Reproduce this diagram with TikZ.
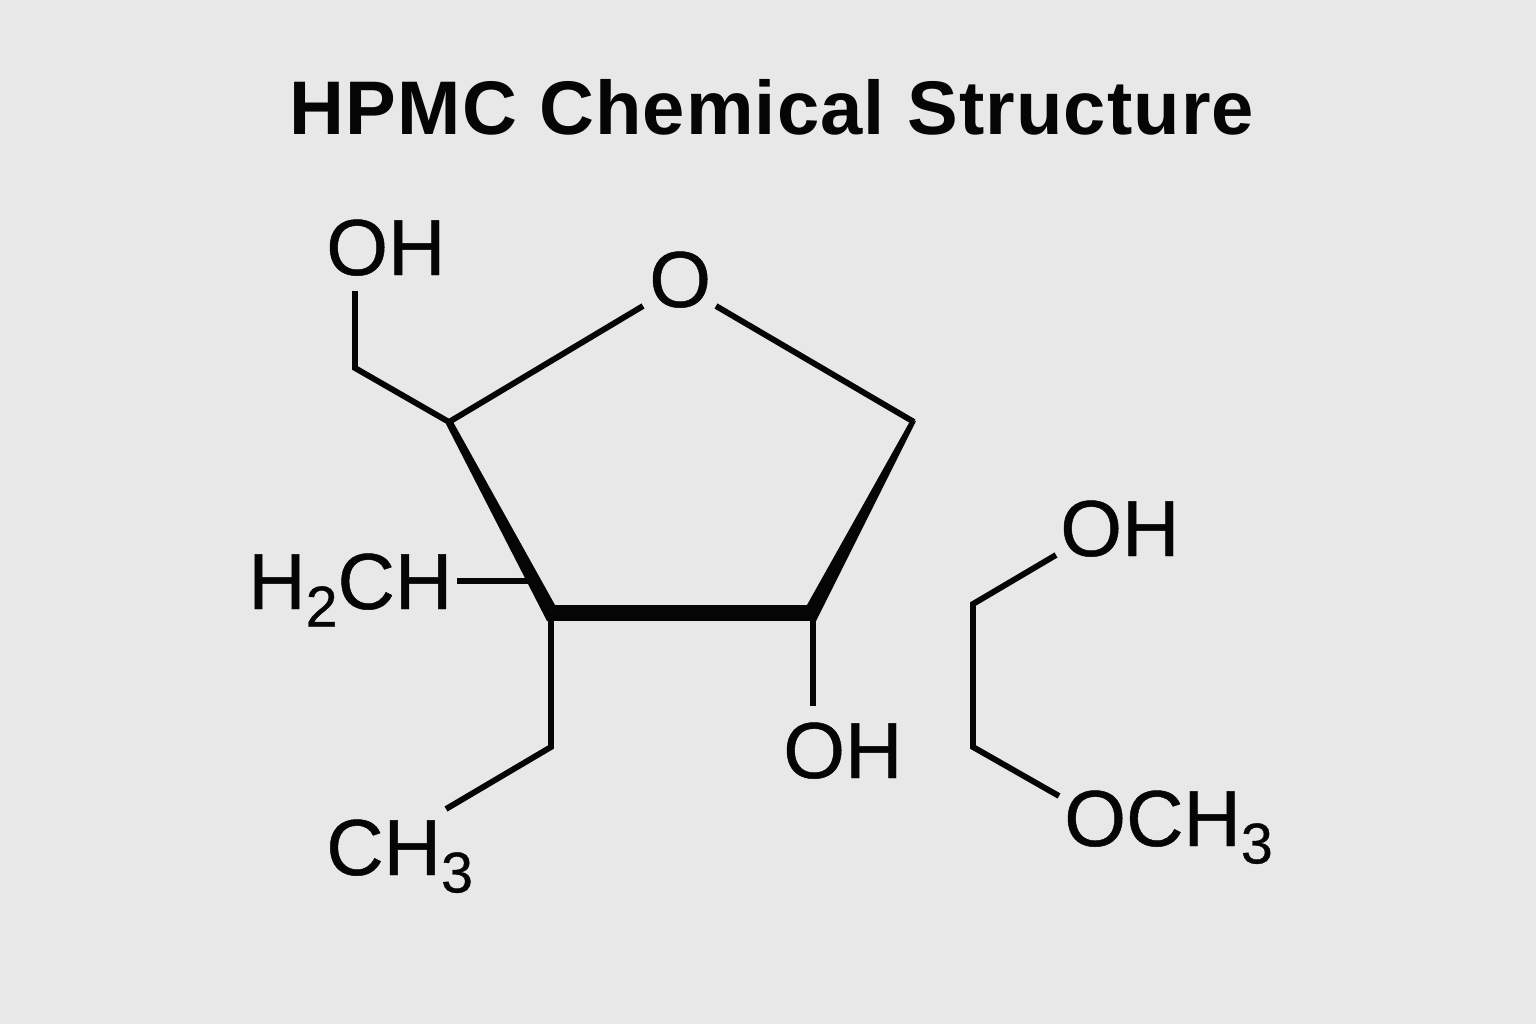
\documentclass[tikz,border=0pt]{standalone}
\usepackage{fontspec}
\setmainfont[FakeBold=0.6]{Liberation Sans}
\newfontfamily\titlefont[LetterSpace=1.5]{Liberation Sans Bold}
\definecolor{bgc}{HTML}{E8E8E8}
\definecolor{ink}{HTML}{050505}
\tikzset{
  bond/.style={draw=ink,line width=4.4pt,line cap=butt,line join=miter},
  wedge/.style={fill=ink},
  lab/.style={text=ink,font=\fontsize{59.6}{60}\selectfont,inner sep=0pt,anchor=base west},
}
\newcommand{\sbs}[1]{\raisebox{-13pt}{\fontsize{43}{43}\selectfont #1}}
\begin{document}
\begin{tikzpicture}[x=0.75pt,y=-0.75pt]
\useasboundingbox (0,0) rectangle (1536,1024);
\fill[bgc] (0,0) rectangle (1536,1024);
\node[text=ink,font=\titlefont\fontsize{57}{57}\selectfont,inner sep=0pt,anchor=base] (title) at (772,134) {HPMC Chemical Structure};
\coordinate (c1) at (449,422);
\coordinate (c2) at (551,613);
\coordinate (c3) at (813,613);
\coordinate (c4) at (914,422);
\coordinate (oe) at (355,368);
\coordinate (oh1e) at (355,291);
\coordinate (ho) at (643,306);
\coordinate (or) at (716,306);
\coordinate (h2e) at (457,581);
\coordinate (h2b) at (530,581);
\coordinate (e1) at (551,747);
\coordinate (e2) at (446,809);
\coordinate (oh3e) at (813,706);
\coordinate (s1) at (1056,555);
\coordinate (s2) at (973,604);
\coordinate (s3) at (973,747);
\coordinate (s4) at (1059,796);
\node[lab] (oh1) at (326,275) {OH};
\node[lab] (o) at (649,307) {O};
\node[lab] (h2ch) at (248,609) {H\sbs{2}CH};
\node[lab] (ch3) at (326,875) {CH\sbs{3}};
\node[lab] (oh3) at (783,778) {OH};
\node[lab] (oh4) at (1060,556) {OH};
\node[lab] (och3) at (1064,846) {OCH\sbs{3}};
\draw[bond] (oh1e) -- (oe) -- (c1) -- (ho);
\draw[bond] (or) -- (c4);
\draw[bond] (h2e) -- (h2b);
\draw[bond] (c2) -- (e1) -- (e2);
\draw[bond] (c3) -- (oh3e);
\draw[bond] (s1) -- (s2) -- (s3) -- (s4);
\fill[wedge] (446,424) -- (452,420) -- (555,605) -- (553,621) -- (547,621) -- cycle;
\fill[wedge] (916,421) -- (909,423) -- (807,605) -- (811,621) -- (816,621) -- cycle;
\fill[ink] (551,605) rectangle (813,621);
\end{tikzpicture}
\end{document}
